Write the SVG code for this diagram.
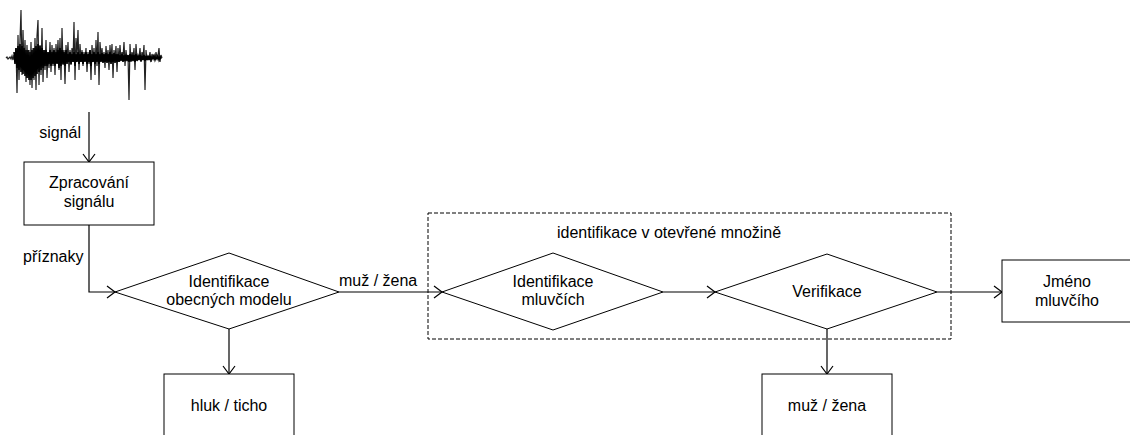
<svg xmlns="http://www.w3.org/2000/svg" width="1130" height="435" viewBox="0 0 1130 435">
<defs>
<style>
.t{font-family:"Liberation Sans",Arial,sans-serif;font-size:16px;fill:#000}
.c{text-anchor:middle}
.n{fill:#fff;stroke:#000;stroke-width:1}
.e{fill:none;stroke:#000;stroke-width:1.2}
</style>
<marker id="arr" markerWidth="10" markerHeight="14" refX="9" refY="7" orient="auto" markerUnits="userSpaceOnUse">
<path d="M1,1 L9,7 L1,13" fill="none" stroke="#000" stroke-width="1.2"/>
</marker>
</defs>
<rect width="1130" height="435" fill="#fff"/>
<g id="waveform">
<polyline fill="none" stroke="#222" stroke-width="1.2" points="6,58 7,57 8,59 9,58 10,57 11,59 12,56 13,60 14,55 15,62 16,48 17,93 18,35 19,80 20,40 21,10 22,75 23,30 24,70 25,40 26,82 27,45 28,78 29,50 30,85 31,42 32,88 33,48 34,80 35,38 36,90 37,36 38,20 39,85 40,45 41,75 42,28 43,82 44,50 45,70 46,40 47,78 48,52 49,68 50,42 51,72 52,45 53,66 54,48 55,75 56,44 57,62 58,40 59,70 60,38 61,80 62,28 63,65 64,50 65,84 66,45 67,62 68,42 69,72 70,50 71,65 72,48 73,62 74,22 75,80 76,38 77,55 78,30 79,70 80,44 81,62 82,50 83,66 84,52 85,60 86,48 87,72 88,52 89,64 90,50 91,80 92,45 93,62 94,48 95,75 96,40 97,66 98,32 99,85 100,42 101,58 102,48 103,62 104,52 105,68 106,46 107,60 108,50 109,70 110,45 111,62 112,44 113,78 114,50 115,60 116,46 117,72 118,48 119,62 120,45 121,60 122,52 123,58 124,42 125,66 126,50 127,60 128,55 129,100 130,44 131,62 132,52 133,58 134,48 135,70 136,44 137,60 138,55 139,58 140,48 141,62 142,52 143,58 144,45 145,90 146,50 147,60 148,56 149,58 150,52 151,62 152,54 153,57 154,55 155,60 156,52 157,58 158,55 159,48 160,62 161,55 162,58"/>
<polyline fill="none" stroke="#000" stroke-width="1.6" points="14,52 15,64 16,48 17,68 18,46 19,70 20,44 21,72 22,46 23,74 24,48 25,76 26,50 27,78 28,50 29,80 30,52 31,80 32,50 33,78 34,48 35,76 36,46 37,74 38,44 39,72 40,46 41,70 42,48 43,68 44,50 45,66 46,50 47,66 48,52 49,64 50,50 51,66 52,52 53,64 54,50 55,66 56,52 57,64 58,50 59,68 60,48 61,66 62,50 63,64 64,52 65,66 66,50 67,64 68,54 69,62 70,52 71,64 72,54 73,62 74,52 75,66 76,54 77,62 78,52 79,64 80,54 81,62 82,52 83,64 84,54 85,62 86,52 87,64 88,54 89,62 90,50 91,66 92,54 93,62 94,52 95,64 96,54 97,62 98,52 99,64 100,54 101,62 102,53 103,63 104,54 105,62 106,53 107,63 108,54 109,62 110,52 111,64 112,54 113,62 114,53 115,63 116,54 117,62 118,54 119,62 120,55 121,61 122,54 123,62 124,55 125,61 126,55 127,61 128,55 129,62 130,54 131,61 132,55 133,61 134,55 135,62 136,54 137,61 138,56 139,60 140,55 141,61 142,56 143,60 144,55 145,61 146,56 147,60 148,56 149,60 150,56 151,60 152,57 153,59 154,56 155,60 156,57 157,59 158,56 159,60 160,57 161,59"/>
</g>
<g id="group-open-set">
<rect x="428" y="213" width="523" height="126" fill="none" stroke="#000" stroke-width="1" stroke-dasharray="4,2"/>
<text class="t" x="557" y="238">identifikace v otevřené množině</text>
</g>
<g id="connectors">
<path class="e" d="M89,112 V162" marker-end="url(#arr)"/>
<path class="e" d="M89,225 V292 H115" marker-end="url(#arr)"/>
<path class="e" d="M339,292 H442" marker-end="url(#arr)"/>
<path class="e" d="M663,292 H715" marker-end="url(#arr)"/>
<path class="e" d="M937,292 H1002" marker-end="url(#arr)"/>
<path class="e" d="M229,329 V374" marker-end="url(#arr)"/>
<path class="e" d="M827,329 V374" marker-end="url(#arr)"/>
<text class="t" x="81" y="138" text-anchor="end">signál</text>
<text class="t" x="23" y="262">příznaky</text>
<text class="t" x="339" y="286">muž / žena</text>
</g>
<g id="node-processing">
<rect class="n" x="24" y="162" width="130" height="63"/>
<text class="t c" x="89" y="188">Zpracování</text>
<text class="t c" x="89" y="207">signálu</text>
</g>
<g id="node-general-models">
<polygon class="n" points="115,292 229,253 339,292 229,329"/>
<text class="t c" x="229" y="287">Identifikace</text>
<text class="t c" x="229" y="305">obecných modelu</text>
</g>
<g id="node-speaker-id">
<polygon class="n" points="442,292 553,253 663,292 553,330"/>
<text class="t c" x="553" y="287">Identifikace</text>
<text class="t c" x="553" y="305">mluvčích</text>
</g>
<g id="node-verification">
<polygon class="n" points="715,292 827,254 937,292 827,329"/>
<text class="t c" x="827" y="297">Verifikace</text>
</g>
<g id="node-name">
<rect class="n" x="1002" y="260" width="140" height="62"/>
<text class="t c" x="1067" y="287">Jméno</text>
<text class="t c" x="1067" y="306">mluvčího</text>
</g>
<g id="node-noise">
<rect class="n" x="164" y="374" width="130" height="70"/>
<text class="t c" x="229" y="411">hluk / ticho</text>
</g>
<g id="node-gender">
<rect class="n" x="762" y="374" width="130" height="70"/>
<text class="t c" x="827" y="411">muž / žena</text>
</g>
</svg>
